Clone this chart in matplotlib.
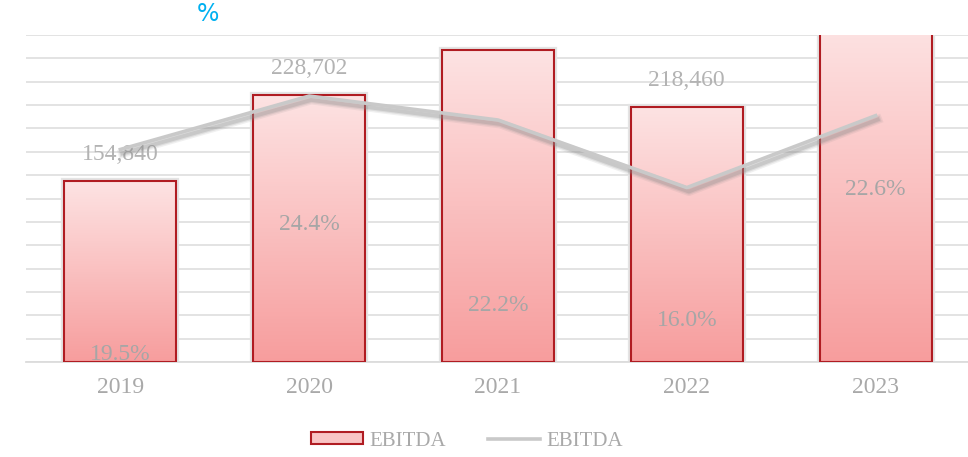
import numpy as np
import matplotlib
matplotlib.use("Agg")
import matplotlib.pyplot as plt
import matplotlib.patheffects as pe
from matplotlib.colors import LinearSegmentedColormap
from matplotlib.patches import Patch
from matplotlib.lines import Line2D

# Data
years = ["2019", "2020", "2021", "2022", "2023"]
ebitda = [154840, 228702, 267203, 218460, 290000]   # 2023 runs off the top of the chart
margin = [19.5, 24.4, 22.2, 16.0, 22.6]             # EBITDA margin, %

# where the margin labels were left in the original (axes fraction)
margin_label_y = [0.024, 0.422, 0.174, 0.128, 0.526]

txt_grey = "#a9a9a9"
serif = "Liberation Serif"
edge_red = "#b01c22"
line_grey = "#c9c9c9"
bar_w = 0.593

fig = plt.figure(figsize=(9.68, 4.57), dpi=100)
ax = fig.add_axes([26 / 968, 1 - 362 / 457, 944 / 968, 327 / 457])
x = np.arange(len(years))

# soft grey glow behind the bars
ax.bar(x, ebitda, width=bar_w, facecolor="none", edgecolor="#e4e4e4",
       linewidth=4.5, zorder=1.8)
# bars with a vertical pink gradient
bars = ax.bar(x, ebitda, width=bar_w, facecolor="none", edgecolor=edge_red,
              linewidth=1.5, zorder=3)
grad = LinearSegmentedColormap.from_list("pink", ["#f79d9d", "#fde3e3"])
for b in bars:
    x0, w, h = b.get_x(), b.get_width(), b.get_height()
    im = ax.imshow(np.linspace(0, 1, 256).reshape(-1, 1), cmap=grad, origin="lower",
                   extent=(x0, x0 + w, 0, h), aspect="auto", zorder=2)
    im.set_clip_path(b.get_path(), b.get_transform())

ax.set_xlim(-0.5, len(years) - 0.5)
ax.set_ylim(0, 280000)
ax.set_yticks(np.arange(0, 280001, 20000))
ax.yaxis.grid(True, color="#e0e0e0", linewidth=1.3)
ax.set_axisbelow(True)
ax.set_xticks(x)
ax.set_xticklabels(years, fontsize=17, family=serif, color=txt_grey)
for s in ["top", "left", "right"]:
    ax.spines[s].set_visible(False)
ax.spines["bottom"].set_color("#dcdcdc")
ax.spines["bottom"].set_linewidth(1.3)

for xi, v in zip(x, ebitda):
    ax.annotate(f"{v:,}", (xi, v), xytext=(0, 19), textcoords="offset points",
                ha="center", va="center", fontsize=17, family=serif,
                color="#b3b3b3", clip_on=True, annotation_clip=True)

# Margin line on a secondary axis, with a blurred drop shadow
ax2 = ax.twinx()
ax2.set_ylim(0, 30)
ax2.axis("off")
ax.tick_params(axis="y", left=False, right=False, labelleft=False, labelright=False)
ax.tick_params(axis="x", length=0, pad=11)
shadow = [pe.SimpleLineShadow(offset=(1.5, -2.8), shadow_color="#8a8a8a", alpha=a,
                              linewidth=lw)
          for lw, a in [(6.5, 0.12), (4.5, 0.18), (2.8, 0.25)]]
ax2.plot(x, margin, color=line_grey, linewidth=2.6, zorder=4,
         path_effects=shadow + [pe.Normal()])
for xi, m, ly in zip(x, margin, margin_label_y):
    ax2.text(xi, ly, f"{m:.1f}%", transform=ax2.get_xaxis_transform(),
             ha="center", va="center", fontsize=17, family=serif, color="#a6a6a6", zorder=5)

fig.text(208 / 968, 1 - 14 / 457, "%", color="#00b0f0", fontsize=17,
         ha="center", va="center", family="DejaVu Sans")

handles = [Patch(facecolor="#f9c4c4", edgecolor=edge_red, linewidth=1.5),
           Line2D([], [], color=line_grey, linewidth=2.6)]
fig.legend(handles, ["EBITDA", "EBITDA"], ncol=2, loc="center",
           bbox_to_anchor=(467 / 968, 1 - 441 / 457), frameon=False,
           prop={"family": serif, "size": 15}, labelcolor=txt_grey,
           handlelength=2.5, handleheight=0.5, handletextpad=0.3, columnspacing=2.0)

fig.savefig("out.png", dpi=100)
